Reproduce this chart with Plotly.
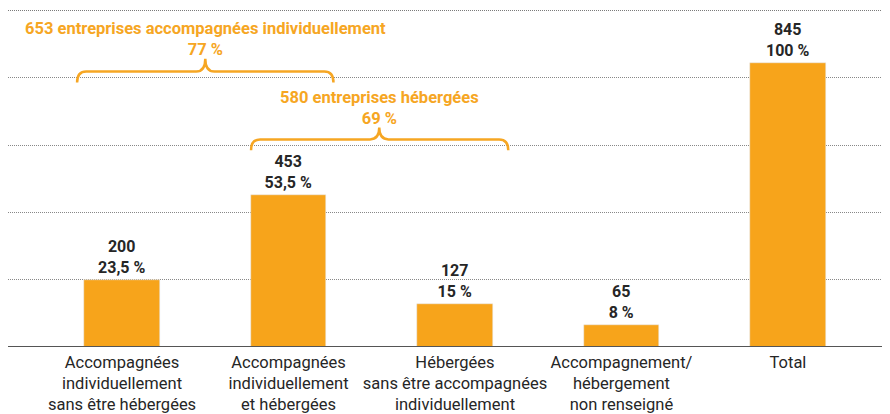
import plotly.graph_objects as go

categories = [
    "Accompagnées<br>individuellement<br>sans être hébergées",
    "Accompagnées<br>individuellement<br>et hébergées",
    "Hébergées<br>sans être accompagnées<br>individuellement",
    "Accompagnement/<br>hébergement<br>non renseigné",
    "Total",
]
counts = [200, 453, 127, 65, 845]
pct_labels = ["23,5 %", "53,5 %", "15 %", "8 %", "100 %"]
grid_values = [200, 400, 600, 800, 1000]

group_labels = ["653 entreprises accompagnées individuellement", "580 entreprises hébergées"]
group_pcts = ["77 %", "69 %"]

ORANGE = "#F6A623"
BAR = "#F7A41B"
DARK = "#262626"
GRID = "#888888"
FONT = "Roboto"
Y_TOP = 1007.5

xs = list(range(len(categories)))
fig = go.Figure()
fig.add_trace(go.Bar(
    x=xs, y=counts, width=0.456, marker_color=BAR,
    text=[f"<b>{c}</b><br><b>{p}</b>" for c, p in zip(counts, pct_labels)],
    textposition="outside", cliponaxis=False,
    textfont=dict(family=FONT, size=16, color=DARK),
    hoverinfo="skip",
))

# brackets: (x start, x end, x center, horizontal y, end y, peak y, text y)
brackets = [
    (-0.27, 1.27, 0.5, 819, 786, 857, 915),
    (0.775, 2.32, 1.545, 617, 585, 652, 709),
]
shapes = []
annotations = []

# top gridline drawn explicitly (plotly omits gridlines at the plot edge)
shapes.append(dict(type="line", xref="paper", yref="y", x0=0, x1=1,
                   y0=grid_values[-1], y1=grid_values[-1], layer="above",
                   line=dict(color="#7a7a7a", width=1.2, dash="1px,1px")))

rx = 0.055
for (x0, x1, xc, yh, ye, yp, ty), lab, pc in zip(brackets, group_labels, group_pcts):
    path = (f"M {x0},{ye} Q {x0},{yh} {x0+rx},{yh} L {xc-rx},{yh} "
            f"Q {xc},{yh} {xc},{yp} Q {xc},{yh} {xc+rx},{yh} "
            f"L {x1-rx},{yh} Q {x1},{yh} {x1},{ye}")
    shapes.append(dict(type="path", path=path, xref="x", yref="y",
                       line=dict(color=ORANGE, width=2.5)))
    annotations.append(dict(x=xc, y=ty, xref="x", yref="y", showarrow=False,
                            text=f"<b>{lab}</b><br><b>{pc}</b>",
                            font=dict(family=FONT, size=16.5, color=ORANGE),
                            xanchor="center", yanchor="middle"))

# baseline
shapes.append(dict(type="line", xref="paper", yref="y", x0=0, x1=1, y0=0, y1=0,
                   line=dict(color="#555555", width=2)))

fig.update_layout(
    width=882, height=406,
    margin=dict(l=0, r=0, t=0, b=67),
    paper_bgcolor="white", plot_bgcolor="white",
    showlegend=False,
    bargap=0,
    shapes=shapes, annotations=annotations,
    xaxis=dict(range=[-0.685, 4.613], tickvals=xs, ticktext=categories,
               automargin=False,
               showgrid=False, zeroline=False, showline=False, ticks="",
               ticklabelstandoff=3,
               tickfont=dict(family=FONT, size=16.5, color=DARK)),
    yaxis=dict(range=[0, Y_TOP], tickvals=grid_values,
               automargin=False,
               showticklabels=False, showgrid=True, gridcolor=GRID,
               griddash="1px,1px", gridwidth=1, zeroline=False, showline=False),
)
fig.write_html("out.html")
